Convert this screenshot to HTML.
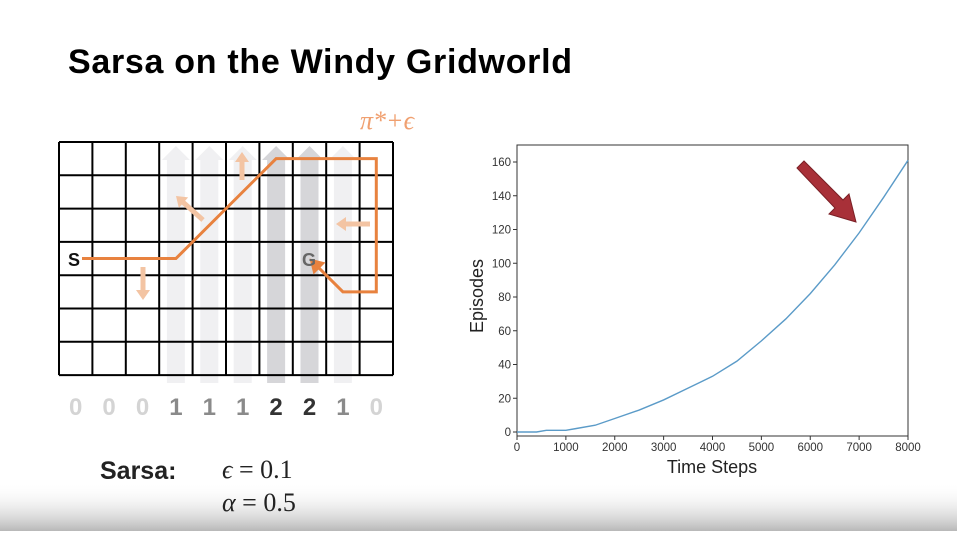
<!DOCTYPE html>
<html><head><meta charset="utf-8"><style>
body{margin:0;width:957px;height:531px;overflow:hidden;background:#fff;font-family:"Liberation Sans",sans-serif;}
</style></head><body>
<svg width="957" height="531" viewBox="0 0 957 531" xmlns="http://www.w3.org/2000/svg">
<defs><linearGradient id="bg" x1="0" y1="0" x2="0" y2="1"><stop offset="0" stop-color="#fff" stop-opacity="0"/><stop offset="1" stop-color="#b8b8b8"/></linearGradient></defs>
<rect x="0" y="482" width="957" height="49" fill="url(#bg)"/>
<text x="68" y="73" font-size="34" font-weight="bold" fill="#000" textLength="504">Sarsa on the Windy Gridworld</text>
<g id="grid"></g>
<text x="360" y="129" font-family="Liberation Serif,serif" font-style="italic" font-size="26" fill="#f0a070">π*+ϵ</text>
<g id="wind"></g>
<text x="100" y="479" font-size="25" font-weight="bold" fill="#222">Sarsa:</text>
<text x="222" y="478" font-family="Liberation Serif,serif" font-size="26" fill="#222"><tspan font-style="italic">ϵ</tspan> = 0.1</text>
<text x="222" y="511" font-family="Liberation Serif,serif" font-size="26" fill="#222"><tspan font-style="italic">α</tspan> = 0.5</text>
<g id="chart"></g>
<polygon points="797,168 804,161 843,200 849,194 856,222 829,214 835,208" fill="#a83038" stroke="#7a1f25" stroke-width="1"/>
</svg>
<script>
const NS="http://www.w3.org/2000/svg";
function mk(t,a,p){const e=document.createElementNS(NS,t);for(const k in a)e.setAttribute(k,a[k]);p.appendChild(e);return e;}
const windVals=[0,0,0,1,1,1,2,2,1,0];
const g=document.getElementById('grid');
const GX=59,GY=142,CW=33.4,CH=33.3;
windVals.forEach((w,i)=>{ if(w>0){const cx=GX+(i+0.5)*CW;const col=w==2?'#cfcfd2':'#ededf0';
 const a=mk('polygon',{points:`${cx-9},383 ${cx+9},383 ${cx+9},160 ${cx+14},160 ${cx},146 ${cx-14},160 ${cx-9},160`,fill:col,opacity:0.85},g);
 }});
for(let c=0;c<=10;c++){const l=mk('line',{x1:GX+c*CW,y1:GY,x2:GX+c*CW,y2:GY+7*CH,stroke:'#000','stroke-width':2},g);}
for(let r=0;r<=7;r++){const l=mk('line',{x1:GX,y1:GY+r*CH,x2:GX+10*CW,y2:GY+r*CH,stroke:'#000','stroke-width':2},g);}
function cc(c){return GX+(c+0.5)*CW;} function rc(r){return GY+(r+0.5)*CH;}
function sarrow(x1,y1,x2,y2){const dx=x2-x1,dy=y2-y1,L=Math.hypot(dx,dy),ux=dx/L,uy=dy/L,px=-uy,py=ux;const hb=[x2-ux*10,y2-uy*10];
 const p=mk('polygon',{points:`${x1+px*2.5},${y1+py*2.5} ${hb[0]+px*2.5},${hb[1]+py*2.5} ${hb[0]+px*7},${hb[1]+py*7} ${x2},${y2} ${hb[0]-px*7},${hb[1]-py*7} ${hb[0]-px*2.5},${hb[1]-py*2.5} ${x1-px*2.5},${y1-py*2.5}`,fill:'#f3c4a3'},g);
 }
sarrow(143,267,143,300);sarrow(203,220,176,196);sarrow(242,180,242,152);sarrow(370,224,336,224);
const path=mk('polyline',{points:`82,${rc(3)} ${cc(3)},${rc(3)} ${cc(6)},${rc(0)} ${cc(9)},${rc(0)} ${cc(9)},${rc(4)} ${cc(8)},${rc(4)} ${cc(7)+8},${rc(3)+8}`,fill:'none',stroke:'#e8823f','stroke-width':3},g);

const ah=mk('polygon',{points:`${cc(7)},${rc(3)} ${cc(7)+16},${rc(3)+4} ${cc(7)+4},${rc(3)+16}`,fill:'#e8823f'},g);

let t=mk('text',{x:68,y:266,'font-size':18,'font-weight':'bold',fill:'#111'},g);t.textContent='S';

t=mk('text',{x:302,y:266,'font-size':18,'font-weight':'bold',fill:'#666'},g);t.textContent='G';

const wg=document.getElementById('wind');
windVals.forEach((w,i)=>{const e=mk('text',{x:cc(i),y:415,'font-size':24,'font-weight':'bold','text-anchor':'middle',fill:w==0?'#d4d4d4':w==1?'#8a8a8a':'#333'},wg);e.textContent=w;
 });
const xs=[0,400,600,1000,1200,1600,2000,2500,3000,3500,4000,4500,5000,5500,6000,6500,7000,7500,8000];
const ys=[0,0,1,1,2,4,8,13,19,26,33,42,54,67,82,99,118,139,161];
const xTicks=[0,1000,2000,3000,4000,5000,6000,7000,8000];
const yTicks=[0,20,40,60,80,100,120,140,160];
const L=517,R=908,T=145,B=436;
const X=v=>L+(v/8000)*(R-L), Y=v=>432-v*1.6875;
const ch=document.getElementById('chart');
let r=mk('rect',{x:L,y:T,width:R-L,height:B-T,fill:'none',stroke:'#333','stroke-width':1},ch);

xTicks.forEach(v=>{const l=mk('line',{x1:X(v),y1:B,x2:X(v),y2:B+4,stroke:'#333'},ch);
 const e=mk('text',{x:X(v),y:B+15,'font-size':11.5,'text-anchor':'middle',fill:'#333'},ch);e.textContent=v;});
yTicks.forEach(v=>{const l=mk('line',{x1:L-4,y1:Y(v),x2:L,y2:Y(v),stroke:'#333'},ch);
 const e=mk('text',{x:L-6,y:Y(v)+4,'font-size':11.5,'text-anchor':'end',fill:'#333'},ch);e.textContent=v;});
const ln=mk('polyline',{points:xs.map((x,i)=>X(x)+','+Y(ys[i])).join(' '),fill:'none',stroke:'#5b9bc8','stroke-width':1.4},ch);

t=mk('text',{x:712,y:473,'font-size':18,'text-anchor':'middle',fill:'#222'},ch);t.textContent='Time Steps';

t=mk('text',{x:483,y:296,'font-size':18,'text-anchor':'middle',fill:'#222',transform:'rotate(-90 483 296)'},ch);t.textContent='Episodes';

</script>
</body></html>
